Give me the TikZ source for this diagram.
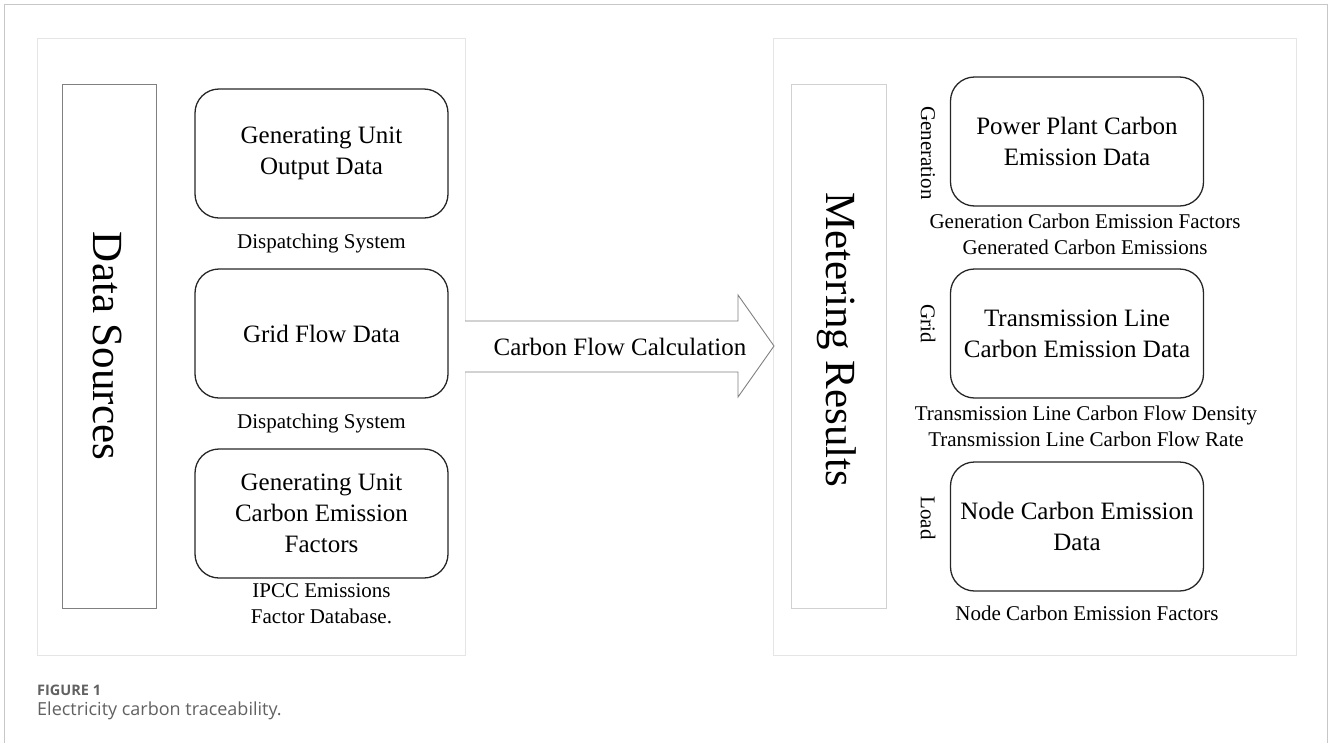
\documentclass[tikz,border=0pt]{standalone}
\usepackage{fontspec}
\setmainfont{Liberation Serif}
\newfontfamily\capfont{Open Sans}
\begin{document}
\begin{tikzpicture}[x=1pt,y=-1pt,
  frame/.style={draw=black!22, line width=1pt},
  panel/.style={draw=black!10, line width=0.9pt, inner sep=0pt},
  tallbox/.style={line width=0.9pt, inner sep=0pt},
  rbox/.style={draw=black!85, line width=1.3pt, rounded corners=24pt, minimum width=253pt, minimum height=129pt, align=center, font=\fontsize{25}{31}\selectfont, inner sep=0pt},
  lbl/.style={align=center, font=\fontsize{21}{26}\selectfont, inner sep=0pt},
  side/.style={rotate=-90, font=\fontsize{21}{26}\selectfont, inner sep=0pt},
  big/.style={rotate=-90, font=\fontsize{43}{50}\selectfont, inner sep=0pt},
  bigarrow/.style={draw=black!50, fill=white, line width=0.9pt, line join=miter},
  captext/.style={anchor=west, inner sep=0pt, text=black!62}]
\useasboundingbox (0,0) rectangle (1328,742);
% outer frame
\draw[frame] (4.5,760) -- (4.5,4.5) -- (1327,4.5) -- (1327,760);
% panels
\node[panel, minimum width=428pt, minimum height=617pt, anchor=north west] (lp) at (37,38) {};
\node[panel, minimum width=523pt, minimum height=617pt, anchor=north west] (rp) at (773,38) {};
% left side
\node[tallbox, draw=black!50, minimum width=94pt, minimum height=524pt] (dsbox) at (109,346) {};
\node[big] (ds) at (108,346) {Data Sources};
\node[rbox] (b1) at (321.5,153.5) {Generating Unit\\Output Data};
\node[lbl] (l1) at (321.5,243) {Dispatching System};
\node[rbox] (b2) at (321.5,333.5) {Grid Flow Data};
\node[lbl] (l2) at (321.5,423) {Dispatching System};
\node[rbox] (b3) at (321.5,513.5) {Generating Unit\\Carbon Emission\\Factors};
\node[lbl] (l3) at (321.5,604) {IPCC Emissions\\Factor Database.};
% arrow
\draw[bigarrow] (465,321) -- (738,321) -- (738,295) -- (774,346) -- (738,397) -- (738,372) -- (465,372);
\node[font=\fontsize{25}{31}\selectfont, inner sep=0pt] (cf) at (620,347) {Carbon Flow Calculation};
% right side
\node[tallbox, draw=black!18, minimum width=95pt, minimum height=524pt] (mrbox) at (838.5,346) {};
\node[big] (mr) at (837,340) {Metering Results};
\node[side] (sg) at (928,153) {Generation};
\node[side] (sgr) at (928,324) {Grid};
\node[side] (sl) at (928,518) {Load};
\node[rbox] (r1) at (1077,141.5) {Power Plant Carbon\\Emission Data};
\node[lbl] (rl1) at (1085,234) {Generation Carbon Emission Factors\\Generated Carbon Emissions};
\node[rbox] (r2) at (1077,333.5) {Transmission Line\\Carbon Emission Data};
\node[lbl] (rl2) at (1086,426) {Transmission Line Carbon Flow Density\\Transmission Line Carbon Flow Rate};
\node[rbox] (r3) at (1077,526.5) {Node Carbon Emission\\Data};
\node[lbl] (rl3) at (1087,613) {Node Carbon Emission Factors};
% caption
\node[captext, font=\capfont\fontsize{14.5}{17}\selectfont\bfseries] (fig) at (37,690) {FIGURE 1};
\node[captext, font=\capfont\fontsize{18}{22}\selectfont] (captn) at (37,711) {Electricity carbon traceability.};
\end{tikzpicture}
\end{document}
